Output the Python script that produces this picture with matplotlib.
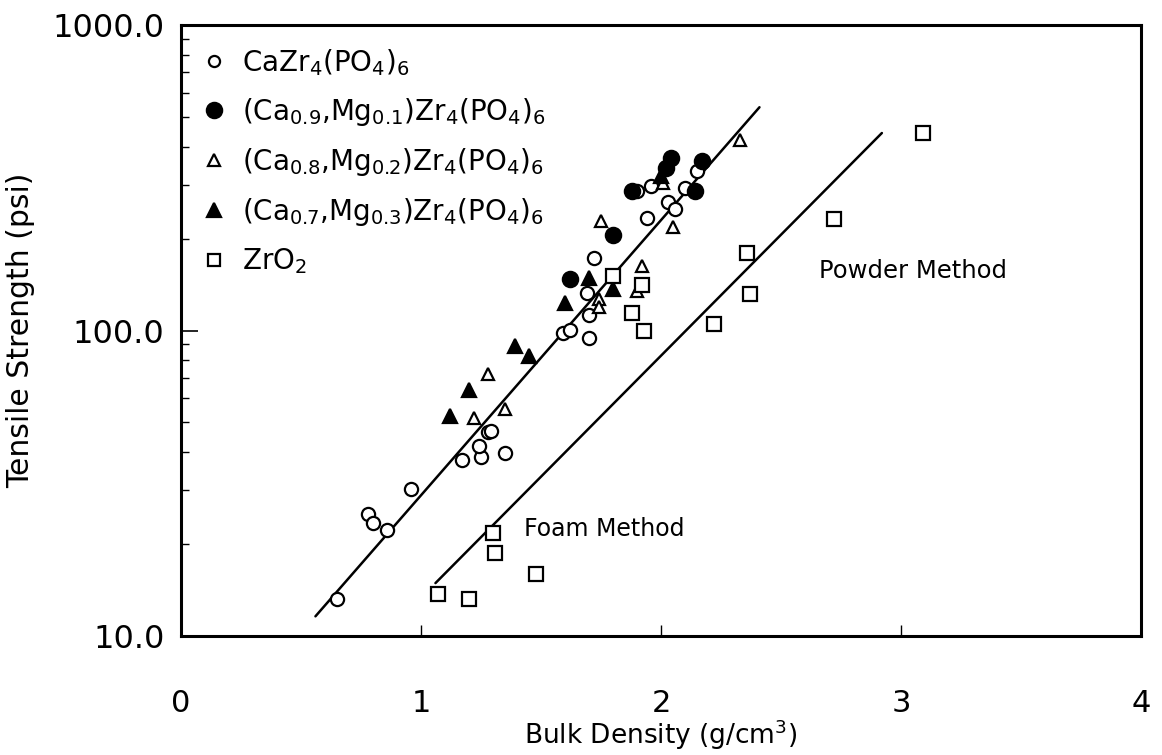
import numpy as np
import matplotlib
matplotlib.use('Agg')
import matplotlib.pyplot as plt
from matplotlib.lines import Line2D
from matplotlib.ticker import FixedLocator, FuncFormatter, LogLocator, NullFormatter

plt.rcParams['font.family'] = ['DejaVu Sans']
plt.rcParams['mathtext.default'] = 'regular'

# CaZr4(PO4)6 - open circles
ca_x = [0.65, 0.78, 0.80, 0.86, 0.96, 1.17, 1.25, 1.24, 1.28, 1.29, 1.35,
        1.59, 1.62, 1.70, 1.70, 1.69, 1.72, 1.94, 1.90, 1.96, 2.15, 2.10,
        2.03, 2.06]
ca_y = [13.2, 25.1, 23.5, 22.3, 30.3, 37.8, 38.6, 42.0, 46.4, 47.0, 39.8,
        98.4, 100.7, 112, 94.2, 133, 173, 234, 286, 297, 332, 292,
        263, 250]

# (Ca0.9,Mg0.1)Zr4(PO4)6 - filled circles
mg1_x = [1.62, 1.80, 1.88, 2.04, 2.02, 2.17, 2.14]
mg1_y = [147, 205, 287, 366, 340, 358, 286]

# (Ca0.8,Mg0.2)Zr4(PO4)6 - open triangles
mg2_x = [1.22, 1.28, 1.35, 1.74, 1.74, 1.75, 1.90, 1.92, 2.05, 2.01, 2.33]
mg2_y = [51.9, 71.8, 55.5, 127, 119, 228, 135, 163, 218, 305, 420]

# (Ca0.7,Mg0.3)Zr4(PO4)6 - filled triangles
mg3_x = [1.12, 1.20, 1.39, 1.45, 1.60, 1.70, 1.80, 2.00]
mg3_y = [52.6, 64.1, 88.7, 82.8, 123, 149, 137, 320]

# ZrO2 - open squares
zr_x = [1.07, 1.20, 1.30, 1.31, 1.48, 1.80, 1.92, 1.88, 1.93, 2.22,
        2.37, 2.36, 2.72, 3.09]
zr_y = [13.7, 13.2, 21.8, 18.7, 16.0, 151, 141, 114, 99.4, 105,
        132, 179, 231, 443]

# fitted lines (end points)
foam_x = [0.56, 2.41]
foam_y = [11.6, 538]
powder_x = [1.06, 2.92]
powder_y = [14.9, 443]

fig = plt.figure(figsize=(11.62, 7.55), dpi=100)
ax = fig.add_axes([0.1558, 0.1576, 0.8262, 0.8093])

ax.plot(foam_x, foam_y, color='black', lw=1.8, solid_capstyle='round')
ax.plot(powder_x, powder_y, color='black', lw=1.8, solid_capstyle='round')

mk = dict(linestyle='none', color='black', markeredgewidth=1.6)
ax.plot(ca_x, ca_y, marker='o', ms=9.5, mfc='white', **mk)
ax.plot(mg1_x, mg1_y, marker='o', ms=11, mfc='black', **mk)
ax.plot(mg2_x, mg2_y, marker='^', ms=9, mfc='white', **mk)
ax.plot(mg3_x, mg3_y, marker='^', ms=10, mfc='black', **mk)
ax.plot(zr_x, zr_y, marker='s', ms=9.5, mfc='white', **mk)

ax.text(1.43, 22.4, 'Foam Method', fontsize=17, ha='left', va='center')
ax.text(2.66, 157, 'Powder Method', fontsize=17.5, ha='left', va='center')

ax.set_yscale('log')
ax.set_xlim(0, 4)
ax.set_ylim(10, 1000)

ax.xaxis.set_major_locator(FixedLocator([0, 1, 2, 3, 4]))
ax.yaxis.set_major_locator(FixedLocator([10, 100, 1000]))
ax.yaxis.set_major_formatter(FuncFormatter(lambda v, p: f'{v:.1f}'))
ax.yaxis.set_minor_locator(LogLocator(base=10, subs=np.arange(2, 10)))
ax.yaxis.set_minor_formatter(NullFormatter())

ax.tick_params(axis='both', which='both', direction='in', top=False, right=False)
ax.tick_params(axis='y', which='major', length=12, width=1.2, labelsize=23, pad=12)
ax.tick_params(axis='y', which='minor', length=6, width=1.0)
ax.tick_params(axis='x', which='major', length=8, width=1.0, labelsize=22, pad=38)

for s in ax.spines.values():
    s.set_linewidth(2.2)

ax.set_ylabel('Tensile Strength (psi)', fontsize=21.5, labelpad=12)
ax.set_xlabel(r'Bulk Density (g/cm$^3$)', fontsize=19, labelpad=0)

handles = [
    Line2D([], [], marker='o', ms=8, mfc='white', **mk),
    Line2D([], [], marker='o', ms=11, mfc='black', **mk),
    Line2D([], [], marker='^', ms=8, mfc='white', **mk),
    Line2D([], [], marker='^', ms=10, mfc='black', **mk),
    Line2D([], [], marker='s', ms=8, mfc='white', **mk),
]
labels = [
    r'CaZr$_4$(PO$_4$)$_6$',
    r'(Ca$_{0.9}$,Mg$_{0.1}$)Zr$_4$(PO$_4$)$_6$',
    r'(Ca$_{0.8}$,Mg$_{0.2}$)Zr$_4$(PO$_4$)$_6$',
    r'(Ca$_{0.7}$,Mg$_{0.3}$)Zr$_4$(PO$_4$)$_6$',
    r'ZrO$_2$',
]
ax.legend(handles, labels, loc='upper left', bbox_to_anchor=(0.0, 1.0),
          frameon=False, fontsize=20, handlelength=0.8, handletextpad=0.6,
          labelspacing=0.65, borderaxespad=0.4)

fig.savefig('out.png', dpi=100)
